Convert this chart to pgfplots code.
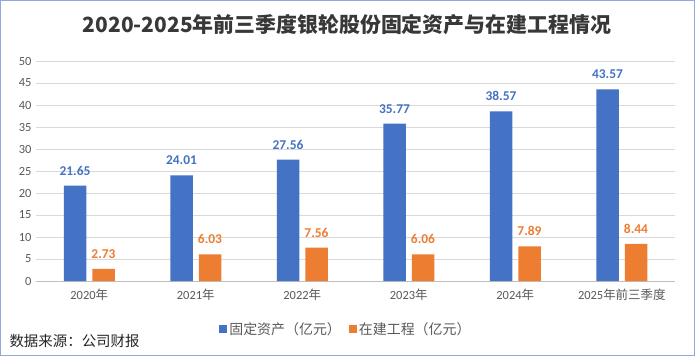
\documentclass[border=0pt]{standalone}
\usepackage{pgfplots}
\pgfplotsset{compat=1.18}
\usepackage{fontspec}
\setmainfont{Carlito}
\newfontfamily\cjk{Noto Sans CJK SC}
\definecolor{cblue}{HTML}{4472C4}
\definecolor{corange}{HTML}{ED7D31}
\definecolor{tgray}{HTML}{595959}
\definecolor{frame}{HTML}{8EA9DB}
\begin{document}
\begin{tikzpicture}[x=1bp,y=1bp]
\fill[white] (0,0) rectangle (695,356);
\draw[color=frame, line width=1.2bp] (0.6,0.6) rectangle (694.4,355.4);
\node[font=\cjk\bfseries\fontsize{21}{24}\selectfont, text=black!78] at (347,331) {2020-2025年前三季度银轮股份固定资产与在建工程情况};
\begin{axis}[
  at={(36bp,75bp)}, anchor=south west,
  scale only axis, width=639bp, height=220bp,
  xmin=-0.5, xmax=5.5, ymin=0, ymax=50,
  ytick={0,5,...,50},
  xtick={0,...,5},
  xticklabels={2020{\cjk 年},2021{\cjk 年},2022{\cjk 年},2023{\cjk 年},2024{\cjk 年},2025{\cjk 年前三季度}},
  ymajorgrids, grid style={draw=black!15, line width=0.7bp},
  axis x line*=bottom, axis y line*=left,
  y axis line style={draw=none},
  x axis line style={draw=black!25, line width=0.8bp},
  major tick length=0pt,
  /pgf/number format/assume math mode=true,
  tick label style={font=\fontsize{12.5}{14}\selectfont, text=tgray},
  yticklabel style={xshift=-1bp},
  xticklabel style={yshift=-4bp},
  ybar=6bp, bar width=22.5bp,
  nodes near coords={\pgfmathprintnumber[fixed,precision=2,zerofill]{\pgfplotspointmeta}},
  nodes near coords style={font=\bfseries\fontsize{13.5}{15}\selectfont, yshift=7bp},
  legend style={at={(0.485,-0.218)}, anchor=center, draw=none, legend columns=2, font=\cjk\fontsize{14}{16}\selectfont, text=tgray, /tikz/every even column/.append style={column sep=6bp}},
  legend image code/.code={\fill[#1] (0bp,-4bp) rectangle (8bp,4bp);},
]
\addplot[fill=cblue, draw=none, every node near coord/.append style={text=cblue}] coordinates {(0,21.65) (1,24.01) (2,27.56) (3,35.77) (4,38.57) (5,43.57)};
\addplot[fill=corange, draw=none, every node near coord/.append style={text=corange}] coordinates {(0,2.73) (1,6.03) (2,7.56) (3,6.06) (4,7.89) (5,8.44)};
\legend{固定资产（亿元）,在建工程（亿元）}
\end{axis}
\node[anchor=west, font=\cjk\fontsize{14.5}{16}\selectfont, text=black!85] at (6,15) {数据来源：公司财报};
\end{tikzpicture}
\end{document}
